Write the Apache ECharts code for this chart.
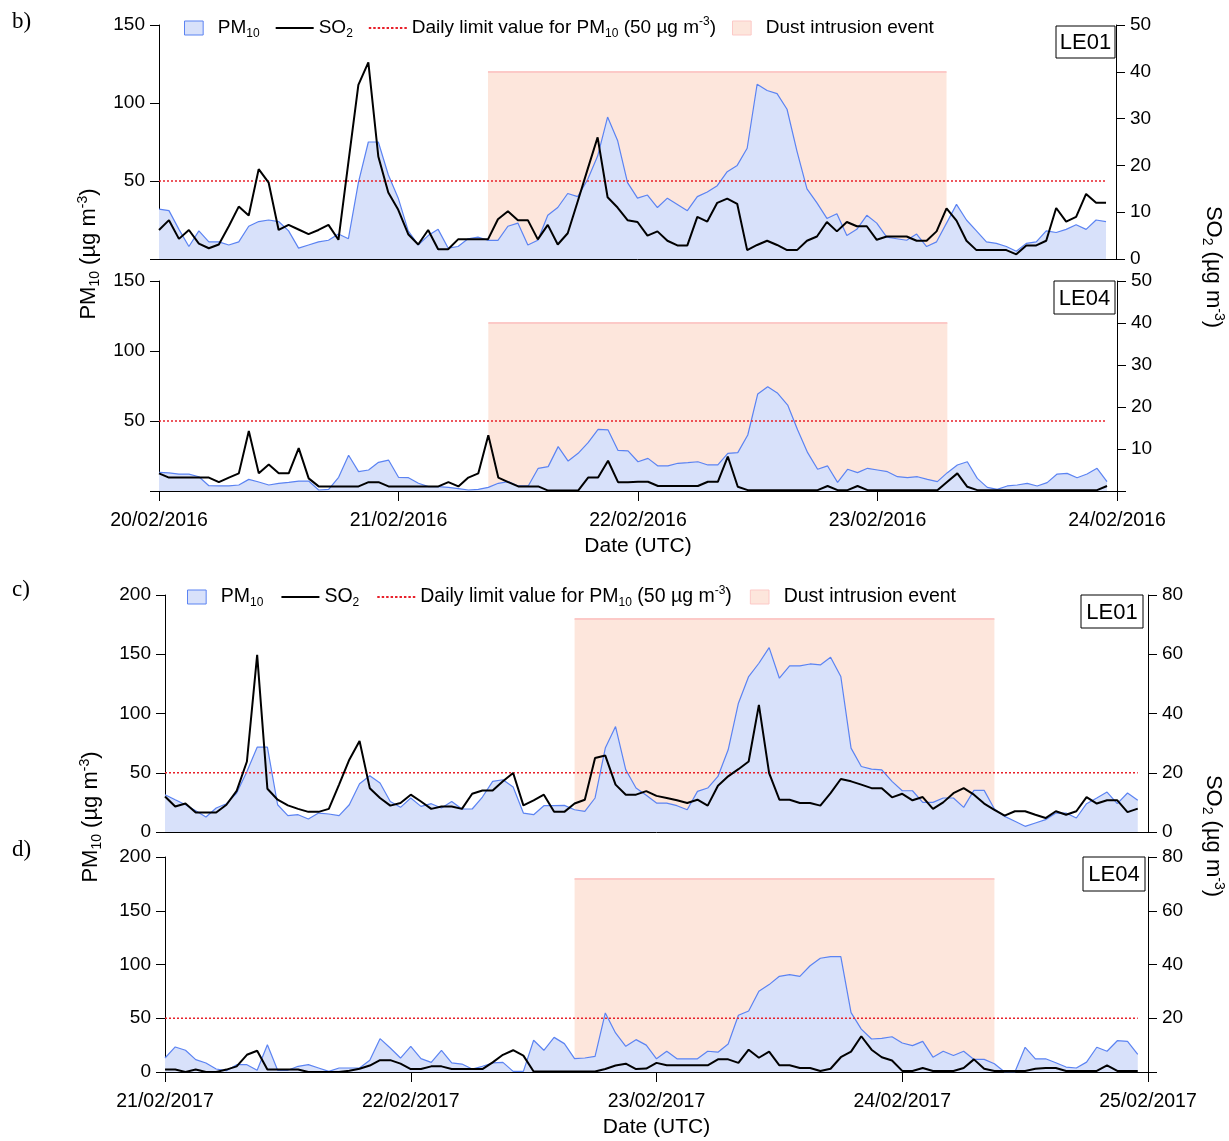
<!DOCTYPE html>
<html>
<head>
<meta charset="utf-8">
<script src="https://cdn.jsdelivr.net/npm/echarts@6/dist/echarts.min.js"></script>
<style>
  html, body { margin: 0; padding: 0; background: #fff; }
  #main { width: 1229px; height: 1141px; }
</style>
</head>
<body>
<div id="main"></div>
<script>
// hourly values, hour 0 = first tick of each panel
const dates2016 = ['20/02/2016', '21/02/2016', '22/02/2016', '23/02/2016', '24/02/2016'];
const dates2017 = ['21/02/2017', '22/02/2017', '23/02/2017', '24/02/2017', '25/02/2017'];

const pm10LE01_2016 = [32,31,19,8,18,11,11,9,11,21, 24,25,24,18,7,9,11,12,16,13, 49,75,75,54,39,18,9,15,19,7,
  8,13,14,12,12,21,23,9,12,28, 33,42,40,51,66,91,76,49,39,41, 33,39,35,31,40,43,47,56,60,71,
  112,108,106,96,69,45,36,26,29,15, 19,28,23,14,13,12,16,8,11,23, 35,25,18,11,10,8,5,10,11,18,
  17,19,22,19,25,24];
const so2LE01_2016 = [6.2,8.3,4.3,6.2,3.3,2.3,3.1,7,11.2,9.3, 19.2,16.3,6.2,7.3,6.3,5.3,6.2,7.3,4.1,20.7,
  37.2,42,21.9,14.2,10.5,5.3,3.1,6.2,2.1,2.1, 4.2,4.2,4.2,4.2,8.5,10.2,8.3,8.3,4.2,7.3,
  3.1,5.5,12.3,19.2,26,13.2,11,8.3,7.9,5, 5.9,3.9,2.9,2.9,9,8,12,12.9,11.8,1.9,
  3,3.9,3,1.9,1.9,3.9,4.8,7.9,5.9,7.9, 7,7,4.1,4.8,4.8,4.8,3.9,3.9,5.9,10.8,
  8.2,3.9,1.9,1.9,1.9,1.9,1,2.9,2.9,3.9, 10.9,8,9,13.9,12,12];

const pm10LE04_2016 = [13.3,12.9,12.1,12.1,10.2,3.8,3.6,3.6,4.3,8.3, 6.4,4.3,5.5,6.2,7.1,7.1,0.7,1.2,9.8,25.5,
  13.8,15,20.5,22.1,9.8,9.5,5.5,3.1,3.1,2.6, 1.7,0.7,1.2,2.6,5.5,6.7,3.6,3.6,16.2,17.4,
  31.7,21.4,26.9,34.5,44,43.6,29,28.6,20.9,23.3, 17.9,17.9,19.8,20.2,20.9,18.6,18.6,26.9,27.4,40,
  69.3,74.5,69.8,61.4,43.6,27.4,15.5,17.9,6.2,15.5, 13.1,16.2,15,13.8,10.2,9.5,10.2,8.3,6.7,13.1,
  18.6,20.9,9,2.6,1.2,3.6,4.3,5.5,3.6,6, 12.1,12.6,9.5,12.1,16.2,6.7];
const so2LE04_2016 = [4.2,3.2,3.2,3.2,3.2,3.2,2.1,3.2,4.2,14.3, 4.2,6.3,4.2,4.2,10.2,3,1.1,1.1,1.1,1.1,
  1.1,2.1,2.1,1.1,1.1,1.1,1.1,1.1,1.1,2.1, 1.1,3.2,4.2,13.3,3.2,2.1,1.1,1.1,1.1,0.1,
  0.1,0.1,0.1,3.2,3.2,7.2,2.1,2.1,2.2,2.2, 1.2,1.2,1.2,1.2,1.2,2.2,2.2,8.2,1,0.2,
  0.2,0.2,0.2,0.2,0.2,0.2,0.2,1.2,0.2,0.2, 1.2,0.2,0.2,0.2,0.2,0.2,0.2,0.2,0.2,2.2,
  4.2,1,0.2,0.2,0.2,0.2,0.2,0.2,0.2,0.2, 0.2,0.2,0.2,0.2,0.2,1.2];

const pm10LE01_2017 = [31.5,27.2,23,18,12.6,20.2,23.9,32.9,51.1,71.6, 71.6,23,13.8,14.6,11,16,15.2,13.8,23,40.7,
  47.5,41.3,25.8,20.8,28.7,21.6,23.9,20.2,25.8,19.4, 19.4,29.5,42.7,44.1,37.9,16,14.6,22.2,22.2,22.5,
  18.8,17.4,28.7,70.8,89,52.5,37.1,31,24.4,24.4, 22.2,18.8,34.3,37.1,46.9,69.4,108.7,131.2,142.4,155.6,
  129.8,140.2,140.2,141.8,141,147.5,131.2,70.8,55.3,53.1, 52.5,42.7,34.8,34.8,25,25,28.7,28.7,20.8,35.1,
  35.1,19.4,13.2,9,4.8,7.6,10.4,16,16,11.8, 23.9,28.7,33.7,23.9,32.9,26.7];
const so2LE01_2017 = [12,8.6,9.6,6.6,6.6,6.6,9.2,13.9,23.8,59.8, 14.6,10.9,9,7.8,6.8,6.8,7.8,16,24.4,30.7,
  14.8,11.5,8.9,9.8,12.6,10.3,7.8,8.6,8.6,7.8, 12.9,14,14,17.1,19.9,9,10.7,12.6,6.8,6.8,
  9.6,10.9,25,25.8,16,12.6,12.6,13.8,12.2,11.5, 10.7,9.8,10.9,8.9,15.6,18.8,21.2,23.8,42.9,19.9,
  10.9,10.9,9.8,9.8,8.9,13.1,17.9,17.1,16,14.8, 14.8,11.7,12.9,10.7,11.8,7.8,10,13.1,14.8,12.6,
  9.6,7.5,5.5,7,7,5.8,4.7,7,5.8,7, 11.8,9.6,10.7,10.7,6.7,7.9];

const pm10LE04_2017 = [13,23.3,20.2,11.5,8.4,2.8,1.2,6.8,6.8,1.6, 25.4,1.6,1.6,5.3,6.8,3.7,0.6,3.7,3.7,3.7,
  10.9,31,22.3,13,23.9,12.4,9,20.2,8.4,7.4, 2.8,5.3,8.4,9,0.6,0.6,29.5,20.2,32.2,26.4,
  12.4,13,14.6,54.9,36.3,23.9,30.1,25,12.3,19.3, 12.3,12.3,12.3,19.3,18.4,26.1,52.8,56.7,75.2,81.3,
  89,90.5,89,98.8,105.8,107.4,107.4,55.2,39.9,30.7, 31.3,32.8,27,24.5,28.5,13.8,19.3,15.3,19.3,11.7,
  11.7,7.7,0,0,23,12.3,12.3,8.6,4.6,3.7, 9.2,23,19.3,29.1,28.5,16.3];
const so2LE04_2017 = [0.9,0.9,0,0.9,0,0,0.9,2.1,6.4,7.9, 0.9,0.9,0.9,0.9,0,0,0,0,0.5,1.2,
  2.4,4.4,4.4,3.1,1.1,1.1,2.1,2.1,1.1,1.1, 1.1,1.1,3.6,6.4,8.1,6.1,0.2,0.2,0.2,0.2,
  0.2,0.2,0.2,1.1,2.4,3.1,1.1,1.3,3.4,2.5, 2.5,2.5,2.5,2.5,4.7,4.7,3.4,8.3,5.3,7.6,
  2.5,2.5,1.5,1.5,0.4,1.2,5.5,7.6,13.3,8.3, 5.5,4.3,0.4,0.4,1.5,0.4,0.4,0.4,1.5,4.7,
  1.2,0.4,0.4,0.4,0.4,1.2,1.5,1.5,0.4,0.4, 0.4,0.4,2.5,0.4,0.4,0.4];

// dust event: start hour, end hour, top of box (PM10 units)
const event2016 = [33, 79, 120];
const event2017 = [40, 81, 180];
const limitPM10 = 50;

const FONT = 'Arial, "Liberation Sans", sans-serif';
const BLUE = '#5b83f2';
const AREA = '#d8e1fa';
const EVENT = '#fde6dc';
const EVENT_EDGE = '#fcc9c7';
const RED = '#e8202a';

const legendText = {
  PM10: '{t|PM}{sub|10}',
  SO2: '{t|SO}{sub|2}',
  Limit: '{t|Daily limit value for PM}{sub|10}{t| (50 µg m}{sup|-3}{t|)}',
  Dust: '{t|Dust intrusion event}'
};

const pairs = arr => arr.map((v, i) => [i, v]);

let dash = '';
for (let i = 0; i < 35; i += 4) dash += 'M' + i + ',0h2.2v1.6h-2.2z';

const panels = [
  { grid: { left: 159, top: 25, width: 957, height: 234 }, pm: pm10LE01_2016, so2: so2LE01_2016,
    ev: event2016, pmMax: 150, soMax: 50, soInt: 10, dates: dates2016, showX: false, zeroL: false, zeroR: true },
  { grid: { left: 159, top: 281, width: 958, height: 210 }, pm: pm10LE04_2016, so2: so2LE04_2016,
    ev: event2016, pmMax: 150, soMax: 50, soInt: 10, dates: dates2016, showX: true, zeroL: false, zeroR: false },
  { grid: { left: 165, top: 595, width: 983, height: 237 }, pm: pm10LE01_2017, so2: so2LE01_2017,
    ev: event2017, pmMax: 200, soMax: 80, soInt: 20, dates: dates2017, showX: false, zeroL: true, zeroR: true },
  { grid: { left: 165, top: 857, width: 983, height: 215 }, pm: pm10LE04_2017, so2: so2LE04_2017,
    ev: event2017, pmMax: 200, soMax: 80, soInt: 20, dates: dates2017, showX: true, zeroL: true, zeroR: false }
];

const tickLabel = { fontSize: 19, color: '#000', fontFamily: FONT };

const grids = [], xAxes = [], yAxes = [], series = [];
panels.forEach((p, gi) => {
  grids.push(p.grid);
  xAxes.push({
    type: 'value', gridIndex: gi, min: 0, max: 96, interval: 24,
    axisLine: { show: true, onZero: false, lineStyle: { color: '#000', width: 1 } },
    axisTick: { show: p.showX, length: 10, lineStyle: { color: '#000' } },
    axisLabel: { show: p.showX, margin: 20, showMinLabel: true, showMaxLabel: true,
      fontSize: 19.5, color: '#000', fontFamily: FONT,
      formatter: v => p.dates[Math.round(v / 24)] },
    splitLine: { show: false },
    name: p.showX ? 'Date (UTC)' : '', nameLocation: 'middle', nameGap: 45,
    nameTextStyle: { fontSize: 21, color: '#000', fontFamily: FONT }
  });
  yAxes.push({
    type: 'value', gridIndex: gi, position: 'left', min: 0, max: p.pmMax, interval: 50,
    axisLine: { show: true, lineStyle: { color: '#000' } },
    axisTick: { show: true, length: 9, lineStyle: { color: '#000' } },
    axisLabel: Object.assign({ margin: 14, formatter: v => (v === 0 && !p.zeroL) ? '' : v }, tickLabel),
    splitLine: { show: false }
  });
  yAxes.push({
    type: 'value', gridIndex: gi, position: 'right', min: 0, max: p.soMax, interval: p.soInt,
    axisLine: { show: true, lineStyle: { color: '#000' } },
    axisTick: { show: true, length: 9, lineStyle: { color: '#000' } },
    axisLabel: Object.assign({ margin: 14, formatter: v => (v === 0 && !p.zeroR) ? '' : v }, tickLabel),
    splitLine: { show: false }
  });

  series.push({
    name: 'Dust', type: 'line', xAxisIndex: gi, yAxisIndex: 2 * gi, data: [], z: 1,
    itemStyle: { color: EVENT },
    markArea: { silent: true, itemStyle: { color: EVENT },
      data: [[{ xAxis: p.ev[0], yAxis: 0 }, { xAxis: p.ev[1], yAxis: p.ev[2] }]] },
    markLine: { silent: true, symbol: 'none', label: { show: false },
      lineStyle: { color: EVENT_EDGE, width: 2, type: 'solid' },
      data: [[{ coord: [p.ev[0], p.ev[2]] }, { coord: [p.ev[1], p.ev[2]] }]] }
  });
  series.push({
    name: 'PM10', type: 'line', xAxisIndex: gi, yAxisIndex: 2 * gi, data: pairs(p.pm),
    symbol: 'none', z: 3, lineStyle: { color: BLUE, width: 1.2 }, itemStyle: { color: BLUE },
    areaStyle: { color: AREA, opacity: 1 }
  });
  series.push({
    name: 'Limit', type: 'line', xAxisIndex: gi, yAxisIndex: 2 * gi,
    data: [[0, limitPM10], [p.pm.length - 1, limitPM10]],
    symbol: 'none', z: 4, lineStyle: { color: RED, width: 1.3, type: [2, 2] }, itemStyle: { color: RED }
  });
  series.push({
    name: 'SO2', type: 'line', xAxisIndex: gi, yAxisIndex: 2 * gi + 1, data: pairs(p.so2),
    symbol: 'none', z: 5, lineStyle: { color: '#000', width: 2 }, itemStyle: { color: '#000' }
  });
});

function legendAt(left, top, size, gap) {
  const small = Math.round(size * 0.63);
  return {
    left: left, top: top, itemWidth: 38, itemHeight: 14, itemGap: gap, selectedMode: false,
    symbolKeepAspect: true,
    textStyle: { fontSize: size, color: '#000', fontFamily: FONT,
      rich: {
        t: { fontSize: size, lineHeight: 24, fontFamily: FONT, color: '#000' },
        sub: { fontSize: small, lineHeight: small, verticalAlign: 'bottom', fontFamily: FONT, color: '#000' },
        sup: { fontSize: small, lineHeight: small, verticalAlign: 'top', fontFamily: FONT, color: '#000' }
      } },
    formatter: n => legendText[n],
    data: [
      { name: 'PM10', icon: 'path://M0,0h20v15h-20z', itemStyle: { color: AREA, borderColor: BLUE, borderWidth: 1 } },
      { name: 'SO2', icon: 'path://M0,0h35v2h-35z', itemStyle: { color: '#000' } },
      { name: 'Limit', icon: 'path://' + dash, itemStyle: { color: RED } },
      { name: 'Dust', icon: 'path://M0,0h20v15h-20z', itemStyle: { color: EVENT, borderColor: EVENT_EDGE, borderWidth: 1 } }
    ]
  };
}

const titleRich = {
  t: { fontSize: 22, lineHeight: 26, fontFamily: FONT, fill: '#000' },
  sub: { fontSize: 14, lineHeight: 14, verticalAlign: 'bottom', fontFamily: FONT, fill: '#000' },
  sup: { fontSize: 14, lineHeight: 14, verticalAlign: 'top', fontFamily: FONT, fill: '#000' }
};
function axisTitle(x, y, rot, txt) {
  return { type: 'text', x: x, y: y, rotation: rot,
    style: { text: txt, rich: titleRich, align: 'center', verticalAlign: 'middle', fill: '#000',
      fontSize: 22, fontFamily: FONT } };
}
function stationBox(x, y, w, h, name) {
  return [
    { type: 'rect', shape: { x: x, y: y, width: w, height: h }, style: { fill: '#fff', stroke: '#000', lineWidth: 1 }, z: 10 },
    { type: 'text', x: x + w / 2, y: y + h / 2 + 1, z: 11,
      style: { text: name, align: 'center', verticalAlign: 'middle', fontSize: 22, fontFamily: FONT, fill: '#000' } }
  ];
}
function panelLetter(x, y, s) {
  return { type: 'text', x: x, y: y, style: { text: s, fontSize: 23, fontFamily: '"Liberation Serif", "Times New Roman", serif', fill: '#000' } };
}

const pmTitle = '{t|PM}{sub|10}{t| (µg m}{sup|-3}{t|)}';
const soTitle = '{t|SO}{sub|2}{t| (µg m}{sup|-3}{t|)}';

const graphics = [
  panelLetter(12, 10, 'b)'), panelLetter(12, 578, 'c)'), panelLetter(12, 838, 'd)'),
  axisTitle(89, 254, Math.PI / 2, pmTitle),
  axisTitle(91, 817, Math.PI / 2, pmTitle),
  axisTitle(1213, 267, -Math.PI / 2, soTitle),
  axisTitle(1213, 836, -Math.PI / 2, soTitle)
].concat(
  stationBox(1056, 26, 59, 32, 'LE01'),
  stationBox(1054, 281, 61, 33, 'LE04'),
  stationBox(1081, 595, 62, 33, 'LE01'),
  stationBox(1083, 857, 62, 34, 'LE04')
);

const chart = echarts.init(document.getElementById('main'));
chart.setOption({
  animation: false,
  backgroundColor: '#fff',
  legend: [legendAt(179, 11, 19, 16), legendAt(182, 580, 19.5, 18)],
  grid: grids,
  xAxis: xAxes,
  yAxis: yAxes,
  series: series,
  graphic: graphics
});
</script>
</body>
</html>
